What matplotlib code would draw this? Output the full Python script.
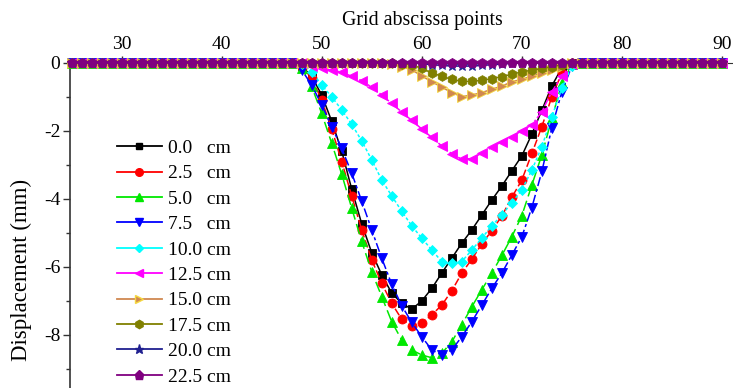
import numpy as np
import matplotlib
matplotlib.use('Agg')
import matplotlib.pyplot as plt
from matplotlib.lines import Line2D

plt.rcParams['font.family'] = ['Liberation Serif', 'DejaVu Serif']
plt.rcParams['axes.unicode_minus'] = False

## DATA

# grid abscissa points 25..90; outside 47..76 every curve sits on 0
x_left = list(range(25, 47))
x_dip = list(range(47, 77))
x_right = list(range(77, 91))

labels = ['0.0   cm', '2.5   cm', '5.0   cm', '7.5   cm', '10.0 cm',
          '12.5 cm', '15.0 cm', '17.5 cm', '20.0 cm', '22.5 cm']

# displacement (mm) at x = 47..76
d00 = [0, -0.10, -0.40, -0.95, -1.72, -2.60, -3.72, -4.74, -5.59, -6.24,
       -6.78, -7.08, -7.25, -7.01, -6.64, -6.19, -5.75, -5.31, -4.92, -4.48,
       -4.04, -3.63, -3.18, -2.74, -2.10, -1.40, -0.68, -0.15, 0, 0]
d25 = [0, -0.12, -0.45, -1.10, -1.95, -2.91, -3.92, -4.92, -5.80, -6.49,
       -7.08, -7.55, -7.74, -7.66, -7.42, -7.13, -6.71, -6.19, -5.78, -5.33,
       -4.94, -4.51, -3.96, -3.45, -2.67, -1.88, -1.00, -0.30, 0, 0]
d50 = [0, -0.15, -0.70, -1.49, -2.37, -3.28, -4.28, -5.26, -6.15, -6.88,
       -7.62, -8.16, -8.45, -8.60, -8.68, -8.55, -8.21, -7.71, -7.18, -6.68,
       -6.19, -5.67, -5.12, -4.50, -3.60, -2.71, -1.64, -0.60, -0.05, 0]
d75 = [0, -0.21, -0.66, -1.24, -1.88, -2.52, -3.25, -4.07, -4.92, -5.75,
       -6.52, -7.15, -7.64, -8.06, -8.45, -8.60, -8.45, -8.06, -7.62, -7.13,
       -6.64, -6.19, -5.66, -5.12, -4.26, -3.20, -1.91, -0.85, -0.10, 0]
d100 = [0, -0.05, -0.26, -0.66, -1.00, -1.39, -1.81, -2.30, -2.86, -3.45,
        -3.92, -4.37, -4.80, -5.16, -5.51, -5.85, -5.90, -5.85, -5.51, -5.16,
        -4.80, -4.48, -4.12, -3.74, -3.16, -2.47, -1.59, -0.75, -0.10, 0]
d125 = [0, -0.02, -0.10, -0.17, -0.22, -0.28, -0.40, -0.53, -0.72, -0.95,
        -1.20, -1.45, -1.70, -1.95, -2.20, -2.45, -2.68, -2.84, -2.82, -2.66,
        -2.49, -2.32, -2.18, -2.00, -1.83, -1.44, -0.85, -0.40, -0.05, 0]
d150 = [0, 0, 0, 0, 0, 0, 0, 0, 0, 0,
        -0.05, -0.12, -0.21, -0.39, -0.56, -0.72, -0.88, -1.00, -0.95, -0.88,
        -0.78, -0.69, -0.56, -0.49, -0.39, -0.31, -0.21, -0.12, 0, 0]
d175 = [0, 0, 0, 0, 0, 0, 0, 0, 0, 0,
        0, -0.03, -0.06, -0.17, -0.30, -0.40, -0.49, -0.55, -0.55, -0.52,
        -0.47, -0.41, -0.34, -0.27, -0.22, -0.17, -0.12, -0.06, 0, 0]
d200 = [0, 0, 0, 0, 0, 0, 0, 0, 0, 0,
        0, 0, 0, -0.03, -0.06, -0.08, -0.10, -0.10, -0.10, -0.08,
        -0.06, -0.04, -0.02, 0, 0, 0, 0, 0, 0, 0]
d225 = [0] * 30

series = [d00, d25, d50, d75, d100, d125, d150, d175, d200, d225]

## STYLE

colors = ['black', '#FF0000', '#00E800', '#0000FF', '#00FFFF', '#FF00FF',
          '#D08850', '#808000', '#202090', '#800080']
edges = ['black', '#FF0000', '#00E800', '#0000FF', '#00FFFF', '#FF00FF',
         '#F5D840', '#808000', '#202090', '#800080']
markers = ['s', 'o', '^', 'v', 'D', '<', '>', 'h', '*', 'p']
msizes = [5.5, 6.5, 7, 7, 5.5, 7, 7, 7, 7.5, 7.5]
styles = ['-', (0, (5, 2)), (0, (7, 3)), (0, (6, 2, 2, 2)), (0, (2, 1.5)),
          (0, (5, 1.5, 1.5, 1.5)), '-', '-', '-', '-']

x = np.array(x_left + x_dip + x_right)

fig = plt.figure(figsize=(7.33, 3.88), dpi=100)
ax = fig.add_axes([0.0955, 0.0, 0.9045, 0.8384])

for i, d in enumerate(series):
    y = np.array([0] * len(x_left) + d + [0] * len(x_right), dtype=float)
    ax.plot(x, y, color=colors[i], ls=styles[i], lw=1.1, marker=markers[i],
            ms=msizes[i], mfc=colors[i], mec=edges[i], mew=0.6,
            clip_on=False, zorder=3 + i)

# legend with plain solid lines like the original
handles = [Line2D([], [], color=colors[i], lw=1.3, marker=markers[i],
                  ms=msizes[i] - 1, mfc=colors[i], mec=edges[i])
           for i in range(len(series))]
ax.legend(handles, labels, loc='upper left', bbox_to_anchor=(0.071, 0.764),
          frameon=False, fontsize=14, handlelength=2.3, handletextpad=0.3,
          labelspacing=0.4, borderaxespad=0, borderpad=0)

# axes: x on top, y pointing down
ax.set_xlim(24.85, 91.1)
ax.set_ylim(-9.57, 0)
ax.xaxis.tick_top()
ax.xaxis.set_label_position('top')
ax.set_xticks([30, 40, 50, 60, 70, 80, 90])
ax.set_yticks([0, -2, -4, -6, -8])
ax.set_yticks([-1, -3, -5, -7, -9], minor=True)
ax.tick_params(axis='both', labelsize=14, direction='out', length=5,
               width=1, color='#333333', pad=2)
ax.tick_params(axis='y', which='minor', direction='out', length=3, width=1,
               color='#333333')
ax.set_xlabel('Grid abscissa points', fontsize=14.3)
ax.xaxis.set_label_coords(0.531, 1.116)
ax.set_ylabel('Displacement (mm)', fontsize=16.5)
ax.yaxis.set_label_coords(-0.058, 0.363)

for s in ['right', 'bottom']:
    ax.spines[s].set_visible(False)
ax.spines['left'].set_color('#333333')
ax.spines['top'].set_color('#333333')
ax.spines['left'].set_linewidth(1.2)

fig.savefig('out.png', dpi=100)
